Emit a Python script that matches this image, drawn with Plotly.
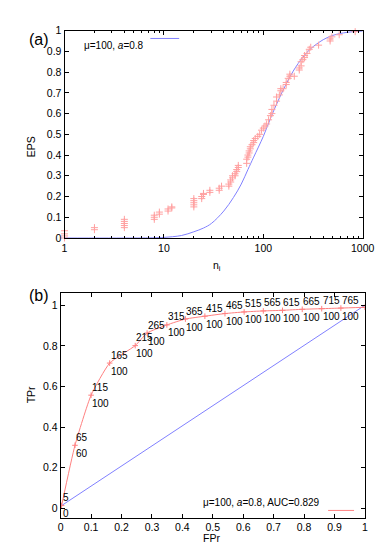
import plotly.graph_objects as go

# ---------------- Panel (a) data ----------------
scatter_n = [1, 1, 1, 1, 2, 2, 4, 4, 4, 4, 4, 8, 8, 8, 9, 9, 11, 11, 12, 12,
             20, 20, 20, 20, 20, 24, 24, 25, 25, 29, 29, 36, 36, 38,
             45, 45, 47, 47, 49, 49, 52, 52, 54, 54, 56, 56,
             68, 68, 70, 70, 72, 72, 74, 74, 77, 80, 80, 83,
             88, 92, 96, 100, 104, 108, 113, 118, 122, 122, 128, 136, 136, 145,
             150, 150, 158, 170, 170, 178, 185, 185, 205, 230, 230, 240, 240,
             250, 260, 260, 275, 290, 300, 360, 470, 470, 490, 580, 840]
scatter_eps = [0.0, 0.01, 0.02, 0.035, 0.04, 0.05, 0.05, 0.06, 0.07, 0.08, 0.09,
               0.09, 0.10, 0.11, 0.115, 0.125, 0.13, 0.14, 0.145, 0.15,
               0.15, 0.16, 0.17, 0.18, 0.19, 0.19, 0.20, 0.21, 0.215, 0.22, 0.23,
               0.23, 0.24, 0.25,
               0.25, 0.26, 0.27, 0.28, 0.29, 0.30, 0.30, 0.31, 0.32, 0.33, 0.34, 0.35,
               0.36, 0.38, 0.39, 0.40, 0.41, 0.42, 0.43, 0.44, 0.45, 0.46, 0.47, 0.48,
               0.49, 0.50, 0.52, 0.53, 0.54, 0.55, 0.57, 0.59, 0.60, 0.62, 0.64, 0.66,
               0.68, 0.69, 0.71, 0.72, 0.72, 0.74, 0.75, 0.77, 0.78, 0.79, 0.78,
               0.81, 0.82, 0.83, 0.85, 0.86, 0.87, 0.88, 0.89, 0.91, 0.92, 0.93,
               0.95, 0.96, 0.97, 0.98, 0.995]

curve_n = [1, 5, 8, 10, 15, 20, 25, 30, 40, 50, 60, 70, 80, 100, 120, 150,
           200, 250, 300, 400, 500, 700, 1000]
curve_eps = [0.0, 0.0, 0.001, 0.003, 0.012, 0.03, 0.048, 0.07, 0.13, 0.195, 0.26,
             0.33, 0.39, 0.49, 0.585, 0.69, 0.805, 0.872, 0.913, 0.956, 0.977,
             0.992, 0.998]

a_yticks = [0, 0.1, 0.2, 0.3, 0.4, 0.5, 0.6, 0.7, 0.8, 0.9, 1]
a_xticks = [1, 10, 100, 1000]
legend_a = "μ=100, <i>a</i>=0.8"

# ---------------- Panel (b) data ----------------
roc_fpr = [0.003, 0.047, 0.10, 0.161, 0.245, 0.284, 0.349, 0.41, 0.474, 0.54,
           0.603, 0.666, 0.729, 0.794, 0.858, 0.921, 1.0]
roc_tpr = [0.013, 0.31, 0.557, 0.715, 0.801, 0.863, 0.903, 0.932, 0.946, 0.959,
           0.967, 0.972, 0.975, 0.98, 0.983, 0.986, 0.99]
upper_labels = ["5", "65", "115", "165", "215", "265", "315", "365", "415", "465",
                "515", "565", "615", "665", "715", "765", ""]
lower_labels = ["0", "60", "100", "100", "100", "100", "100", "100", "100", "100",
                "100", "100", "100", "100", "100", "100", ""]
diag_fpr = [0, 1]
diag_tpr = [0.01, 1]
b_yticks = [0, 0.2, 0.4, 0.6, 0.8, 1]
b_xticks = [0, 0.1, 0.2, 0.3, 0.4, 0.5, 0.6, 0.7, 0.8, 0.9, 1]
legend_b = "μ=100, <i>a</i>=0.8, AUC=0.829"

W, H = 384, 550
FONT = "Liberation Sans, Arial, sans-serif"
RED = "#ff8080"
BLUE = "#8080ff"
PINK = "#ffa0a0"


def px(x):
    return x / W


def py(y):
    return 1 - y / H


fig = go.Figure()

fig.add_trace(go.Scatter(x=curve_n, y=curve_eps, mode="lines",
                         line=dict(color=BLUE, width=1, shape="spline"),
                         xaxis="x", yaxis="y", showlegend=False))
fig.add_trace(go.Scatter(x=scatter_n, y=scatter_eps, mode="markers", cliponaxis=False,
                         marker=dict(symbol="cross-thin", size=5,
                                     line=dict(color=PINK, width=1)),
                         xaxis="x", yaxis="y", showlegend=False))

fig.add_trace(go.Scatter(x=diag_fpr, y=diag_tpr, mode="lines",
                         line=dict(color=BLUE, width=1),
                         xaxis="x2", yaxis="y2", showlegend=False))
fig.add_trace(go.Scatter(x=roc_fpr, y=roc_tpr, mode="lines+markers",
                         line=dict(color=RED, width=1, shape="spline", smoothing=0.5),
                         marker=dict(symbol="cross-thin", size=4,
                                     line=dict(color=RED, width=1)),
                         xaxis="x2", yaxis="y2", showlegend=False))

LBL = dict(size=10, color="black", family=FONT)
annotations = []
for fx, ty, up, lo in zip(roc_fpr, roc_tpr, upper_labels, lower_labels):
    if up:
        annotations.append(dict(x=fx, y=ty, xref="x2", yref="y2", text=up,
                                showarrow=False, xanchor="left", yanchor="middle",
                                yshift=8, borderpad=0, font=LBL))
    if lo:
        annotations.append(dict(x=fx, y=ty, xref="x2", yref="y2", text=lo,
                                showarrow=False, xanchor="left", yanchor="middle",
                                yshift=-8, borderpad=0, font=LBL))

tfont = dict(size=10.5, color="black", family=FONT)
annotations += [
    dict(x=px(17), y=py(15), xref="paper", yref="paper", text="(a)", showarrow=False,
         font=dict(size=16, color="black", family=FONT)),
    dict(x=px(17), y=py(288), xref="paper", yref="paper", text="(b)", showarrow=False,
         font=dict(size=16, color="black", family=FONT)),
    dict(x=px(12), y=py(123), xref="paper", yref="paper", text="EPS", showarrow=False,
         textangle=-90, font=tfont),
    dict(x=px(214), y=py(258), xref="paper", yref="paper", text="n<sub>i</sub>",
         showarrow=False, borderpad=0, font=tfont),
    dict(x=px(12), y=py(400), xref="paper", yref="paper", text="TPr", showarrow=False,
         textangle=-90, font=tfont),
    dict(x=px(209), y=py(542.5), xref="paper", yref="paper", text="FPr", showarrow=False,
         borderpad=0, font=tfont),
    dict(x=px(141), y=py(25), xref="paper", yref="paper", text=legend_a, showarrow=False,
         xanchor="right", font=LBL),
    dict(x=px(324), y=py(507.5), xref="paper", yref="paper", text=legend_b,
         showarrow=False, xanchor="right", font=LBL),
]

shapes = [
    dict(type="line", xref="paper", yref="paper", x0=px(145), x1=px(175),
         y0=py(25), y1=py(25), line=dict(color=BLUE, width=1)),
    dict(type="line", xref="paper", yref="paper", x0=px(330), x1=px(357),
         y0=py(507.5), y1=py(507.5), line=dict(color=RED, width=1)),
]

axis_common = dict(showline=True, linecolor="black", linewidth=1, mirror="allticks",
                   ticks="inside", ticklen=4, tickcolor="black", showgrid=False,
                   zeroline=False, tickfont=tfont)

fig.update_layout(
    width=W, height=H, margin=dict(l=0, r=0, t=0, b=0),
    paper_bgcolor="white", plot_bgcolor="white",
    xaxis=dict(type="log", range=[0, 3], domain=[px(55.7), px(366)],
               tickvals=a_xticks, ticktext=[str(v) for v in a_xticks], anchor="y",
               minor=dict(ticks="inside", ticklen=2, tickcolor="black",
                          tickvals=[m * 10 ** d for d in range(3) for m in range(2, 10)]),
               **axis_common),
    yaxis=dict(range=[0, 1], domain=[py(229), py(17)], tickvals=a_yticks,
               ticktext=[f"{v:g}" for v in a_yticks], anchor="x", **axis_common),
    xaxis2=dict(range=[0, 1], domain=[px(51.7), px(368.3)], tickvals=b_xticks,
                ticktext=[f"{v:g}" for v in b_xticks], anchor="y2", **axis_common),
    yaxis2=dict(range=[-0.047, 1.058], domain=[py(515), py(285.7)], tickvals=b_yticks,
                ticktext=[f"{v:g}" for v in b_yticks], anchor="x2", **axis_common),
    annotations=annotations, shapes=shapes,
)

fig.write_html("out.html")
